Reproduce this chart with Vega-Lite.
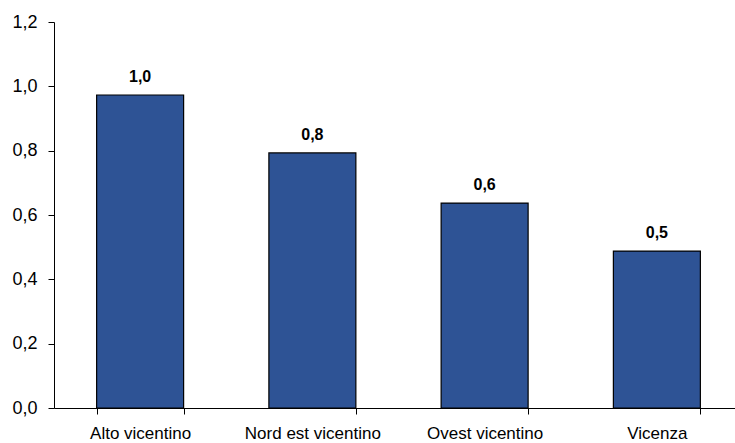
{
  "$schema": "https://vega.github.io/schema/vega-lite/v6.json",
  "width": 681,
  "height": 386,
  "autosize": {"type": "none"},
  "padding": {"left": 54, "top": 22, "right": 0, "bottom": 35},
  "config": {
    "locale": {"number": {"decimal": ",", "thousands": ".", "grouping": [3], "currency": ["", " €"]}},
    "view": {"stroke": null},
    "font": "Liberation Sans, Arial"
  },
  "data": {
    "values": [
      {"zona": "Alto vicentino", "valore": 0.973},
      {"zona": "Nord est vicentino", "valore": 0.793},
      {"zona": "Ovest vicentino", "valore": 0.637},
      {"zona": "Vicenza", "valore": 0.488}
    ]
  },
  "encoding": {
    "x": {
      "field": "zona",
      "type": "nominal",
      "sort": null,
      "scale": {"range": [0, 689], "paddingInner": 0.495, "paddingOuter": 0.2475},
      "axis": {
        "title": null,
        "labelAngle": 0,
        "labelFontSize": 17,
        "labelColor": "#000000",
        "labelPadding": 11,
        "tickBand": "extent",
        "tickSize": 6,
        "tickColor": "#000000",
        "domainColor": "#000000",
        "grid": false
      }
    },
    "y": {
      "field": "valore",
      "type": "quantitative",
      "scale": {"domain": [0, 1.2], "nice": false},
      "axis": {
        "title": null,
        "values": [0, 0.2, 0.4, 0.6, 0.8, 1.0, 1.2],
        "format": ".1f",
        "labelFontSize": 18,
        "labelColor": "#000000",
        "labelPadding": 11,
        "tickSize": 6,
        "tickColor": "#000000",
        "domainColor": "#000000",
        "grid": false
      }
    }
  },
  "layer": [
    {
      "mark": {"type": "bar", "color": "#2E5395", "stroke": "#000000", "strokeWidth": 1.2}
    },
    {
      "mark": {"type": "text", "baseline": "bottom", "dy": -10, "fontWeight": "bold", "fontSize": 16, "color": "#000000"},
      "encoding": {"text": {"field": "valore", "type": "quantitative", "format": ".1f"}}
    }
  ]
}
